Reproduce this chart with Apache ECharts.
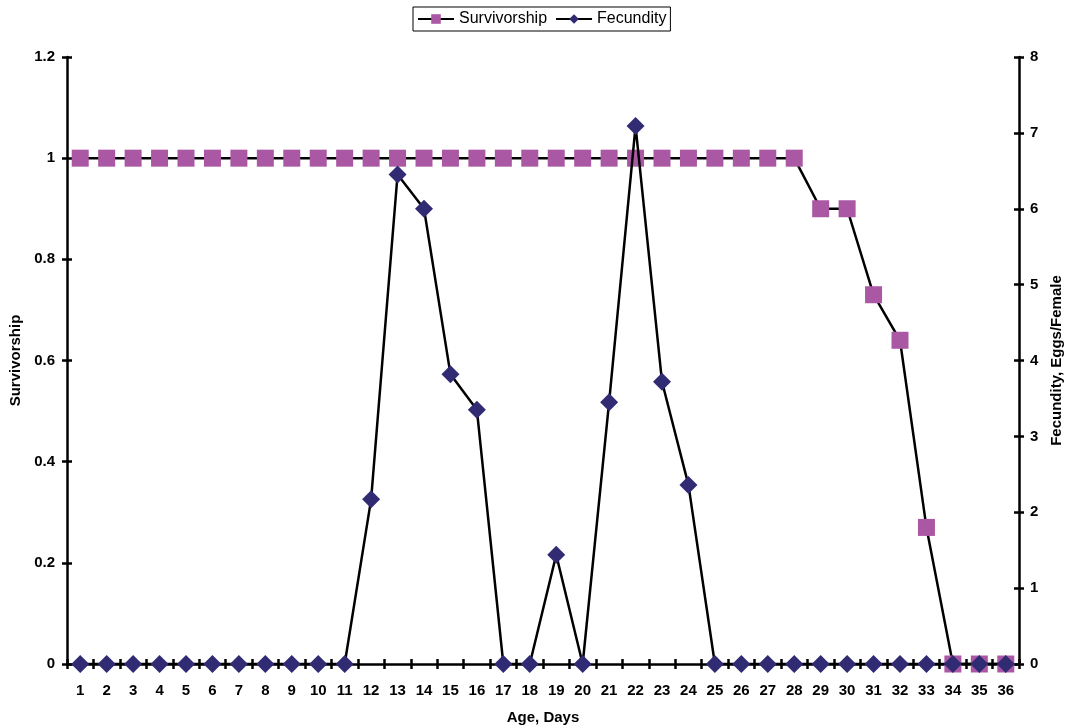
<!DOCTYPE html>
<html>
<head>
<meta charset="utf-8">
<script src="https://cdn.jsdelivr.net/npm/echarts@6/dist/echarts.min.js"></script>
<style>html,body{margin:0;padding:0;background:#fff}#c{width:1068px;height:728px}</style>
</head>
<body>
<div id="c"></div>
<script>
var days = [];
for (var d = 1; d <= 36; d++) days.push(String(d));
var survivorship = [1,1,1,1,1,1,1,1,1,1,1,1,1,1,1,1,1,1,1,1,1,1,1,1,1,1,1,1,0.9,0.9,0.73,0.64,0.27,0,0,0];
var fecundity = [0,0,0,0,0,0,0,0,0,0,0,2.17,6.45,6.0,3.82,3.35,0,0,1.44,0,3.45,7.09,3.72,2.36,0,0,0,0,0,0,0,0,0,0,0,0];
var leftTicks = [0, 0.2, 0.4, 0.6, 0.8, 1, 1.2];
var rightTicks = [0, 1, 2, 3, 4, 5, 6, 7, 8];

var FONT = 'Liberation Sans, Arial, sans-serif';
var axisLbl = {color:'#000', fontFamily:FONT, fontWeight:'bold', fontSize:15};
var tickStyle = {color:'#000', width:2.5};
function makeGrid(){ return {left:67, right:49, top:57, bottom:64, containLabel:false, outerBoundsMode:'none'}; }
var chart = echarts.init(document.getElementById('c'));
chart.setOption({
  animation:false,
  backgroundColor:'#fff',
  legend:{
    top:7, left:413,
    data:['Survivorship','Fecundity'],
    borderColor:'#000', borderWidth:1, padding:[4,4,4,4],
    itemWidth:36, itemHeight:12, itemGap:8,
    textStyle:{color:'#000', fontFamily:FONT, fontSize:16}
  },
  grid:[makeGrid(), makeGrid()],
  xAxis:[{
    type:'category', data:days, boundaryGap:true, gridIndex:0,
    name:'Age, Days', nameLocation:'middle', nameGap:46,
    nameTextStyle:{color:'#000', fontFamily:FONT, fontWeight:'bold', fontSize:15},
    axisLine:{lineStyle:{color:'#000', width:2.5}},
    axisTick:{show:true, length:5, lineStyle:tickStyle},
    axisLabel:Object.assign({margin:19, interval:0}, axisLbl)
  },{
    type:'category', data:days, boundaryGap:true, gridIndex:1, position:'bottom',
    axisLine:{show:false},
    axisTick:{show:true, inside:true, length:5, lineStyle:tickStyle},
    axisLabel:{show:false}
  }],
  yAxis:[{
    type:'value', min:0, max:1.2, interval:0.2, position:'left', gridIndex:0,
    name:'Survivorship', nameLocation:'middle', nameGap:43,
    nameTextStyle:{color:'#000', fontFamily:FONT, fontWeight:'bold', fontSize:15},
    axisLine:{show:true, lineStyle:{color:'#000', width:2.5}},
    axisTick:{show:true, length:5, lineStyle:tickStyle},
    splitLine:{show:false},
    axisLabel:Object.assign({margin:12, formatter:function(v){return String(Math.round(v*10)/10);}}, axisLbl)
  },{
    type:'value', min:0, max:8, interval:1, position:'right', gridIndex:0,
    name:'Fecundity, Eggs/Female', nameLocation:'middle', nameGap:29,
    nameTextStyle:{color:'#000', fontFamily:FONT, fontWeight:'bold', fontSize:15},
    axisLine:{show:true, lineStyle:{color:'#000', width:2.5}},
    axisTick:{show:true, length:5, lineStyle:tickStyle},
    splitLine:{show:false},
    axisLabel:Object.assign({margin:11}, axisLbl)
  },{
    type:'value', min:0, max:1.2, interval:0.2, position:'left', gridIndex:1,
    axisLine:{show:false}, axisTick:{show:true, inside:true, length:5, lineStyle:tickStyle},
    axisLabel:{show:false}, splitLine:{show:false}
  },{
    type:'value', min:0, max:8, interval:1, position:'right', gridIndex:1,
    axisLine:{show:false}, axisTick:{show:true, inside:true, length:5, lineStyle:tickStyle},
    axisLabel:{show:false}, splitLine:{show:false}
  }],
  series:[{
    name:'Survivorship', type:'line', xAxisIndex:0, yAxisIndex:0,
    data:survivorship, symbol:'rect', symbolSize:17,
    lineStyle:{color:'#000', width:2.5},
    itemStyle:{color:'#AA58A4', borderWidth:0},
    z:3
  },{
    name:'Fecundity', type:'line', xAxisIndex:0, yAxisIndex:1,
    data:fecundity, symbol:'diamond', symbolSize:[18,18],
    lineStyle:{color:'#000', width:2.5},
    itemStyle:{color:'#312B74', borderWidth:0},
    z:4
  }]
});
</script>
</body>
</html>
